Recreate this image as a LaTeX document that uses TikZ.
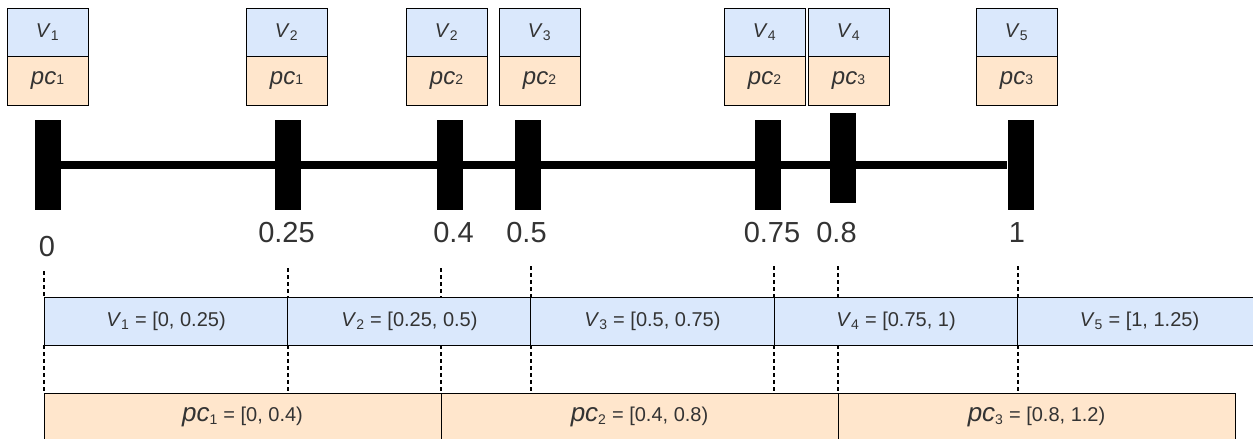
\documentclass[tikz,border=0pt]{standalone}
\usepackage{fontspec}
\setmainfont{Liberation Sans}
\definecolor{cellblue}{HTML}{DAE8FC}
\definecolor{cellorange}{HTML}{FFE6CC}
\definecolor{textgray}{HTML}{333333}
\newcommand{\pcidx}[1]{{\fontsize{14}{16}\selectfont #1}}
\newcommand{\pcname}{{\fontsize{24}{26}\selectfont\textit{pc}}}
\begin{document}
\begin{tikzpicture}[x=1pt,y=-1pt,
  vbox/.style={draw, line width=0.8pt, fill=cellblue, minimum width=81pt, minimum height=48pt, inner sep=0pt, text=textgray, font=\fontsize{20}{22}\selectfont},
  pbox/.style={vbox, fill=cellorange, minimum height=49pt},
  bar/.style={fill=black, minimum width=26pt, minimum height=90pt, inner sep=0pt},
  tick/.style={text=textgray, inner sep=0pt, font=\fontsize{29}{32}\selectfont},
  guide/.style={line width=1.2pt, dash pattern=on 4pt off 3pt},
  vcell/.style={draw, line width=0.8pt, fill=cellblue, minimum width=243.5pt, minimum height=48pt, inner sep=0pt, text=textgray, font=\fontsize{20}{22}\selectfont},
  pcell/.style={vcell, fill=cellorange, minimum width=397pt}]
\useasboundingbox (0,0) rectangle (1253,439);
\node[vbox] (v1top) at (47.5,32) {\textit{V}\textsubscript{1}};
\node[pbox] (p1top) at (47.5,80.5) {\pcname\pcidx{1}};
\node[vbox] (v2top) at (286.5,32) {\textit{V}\textsubscript{2}};
\node[pbox] (p2top) at (286.5,80.5) {\pcname\pcidx{1}};
\node[vbox] (v3top) at (446.5,32) {\textit{V}\textsubscript{2}};
\node[pbox] (p3top) at (446.5,80.5) {\pcname\pcidx{2}};
\node[vbox] (v4top) at (539.5,32) {\textit{V}\textsubscript{3}};
\node[pbox] (p4top) at (539.5,80.5) {\pcname\pcidx{2}};
\node[vbox] (v5top) at (764.5,32) {\textit{V}\textsubscript{4}};
\node[pbox] (p5top) at (764.5,80.5) {\pcname\pcidx{2}};
\node[vbox] (v6top) at (848.5,32) {\textit{V}\textsubscript{4}};
\node[pbox] (p6top) at (848.5,80.5) {\pcname\pcidx{3}};
\node[vbox] (v7top) at (1016.5,32) {\textit{V}\textsubscript{5}};
\node[pbox] (p7top) at (1016.5,80.5) {\pcname\pcidx{3}};
\node[bar] (b000) at (48,165) {};
\node[bar] (b025) at (288,165) {};
\node[bar] (b040) at (449.5,165) {};
\node[bar] (b050) at (528,165) {};
\node[bar] (b075) at (768,165) {};
\node[bar] (b080) at (843,157.5) {};
\node[bar] (b100) at (1020.5,165) {};
\draw[line width=8pt] (b000) -- (b100);
\node[tick] (t000) at (47,247) {0};
\node[tick] (t025) at (286.5,233) {0.25};
\node[tick] (t040) at (453.5,233) {0.4};
\node[tick] (t050) at (526.5,233) {0.5};
\node[tick] (t075) at (772,233) {0.75};
\node[tick] (t080) at (836.5,233) {0.8};
\node[tick] (t100) at (1017,233) {1};
\node[vcell] (v1) at (166,321) {\textit{V}\textsubscript{1} = [0, 0.25)};
\node[vcell] (v2) at (409.5,321) {\textit{V}\textsubscript{2} = [0.25, 0.5)};
\node[vcell] (v3) at (652.5,321) {\textit{V}\textsubscript{3} = [0.5, 0.75)};
\node[vcell] (v4) at (896,321) {\textit{V}\textsubscript{4} = [0.75, 1)};
\node[vcell] (v5) at (1139.5,321) {\textit{V}\textsubscript{5} = [1, 1.25)};
\node[pcell] (p1) at (242.5,417) {{\fontsize{26}{28}\selectfont\textit{pc}}\textsubscript{1} = [0, 0.4)};
\node[pcell] (p2) at (639.5,417) {{\fontsize{26}{28}\selectfont\textit{pc}}\textsubscript{2} = [0.4, 0.8)};
\node[pcell] (p3) at (1036.5,417) {{\fontsize{26}{28}\selectfont\textit{pc}}\textsubscript{3} = [0.8, 1.2)};
\coordinate (g000) at (44,271);
\coordinate (g025) at (288,268);
\coordinate (g040) at (441,268);
\coordinate (g050) at (531,266);
\coordinate (g075) at (774,266);
\coordinate (g080) at (838,266);
\coordinate (g100) at (1018,266);
\draw[guide] (g000) -- (g000 |- v1.north) (g000 |- v1.south) -- (g000 |- p1.north);
\draw[guide] (g025) -- (g025 |- v1.north) (g025 |- v1.south) -- (g025 |- p1.north);
\draw[guide] (g040) -- (g040 |- v2.north) (g040 |- v2.south) -- (g040 |- p1.north);
\draw[guide] (g050) -- (g050 |- v2.north) (g050 |- v2.south) -- (g050 |- p2.north);
\draw[guide] (g075) -- (g075 |- v3.north) (g075 |- v3.south) -- (g075 |- p2.north);
\draw[guide] (g080) -- (g080 |- v4.north) (g080 |- v4.south) -- (g080 |- p2.north);
\draw[guide] (g100) -- (g100 |- v4.north) (g100 |- v4.south) -- (g100 |- p3.north);
\end{tikzpicture}
\end{document}
